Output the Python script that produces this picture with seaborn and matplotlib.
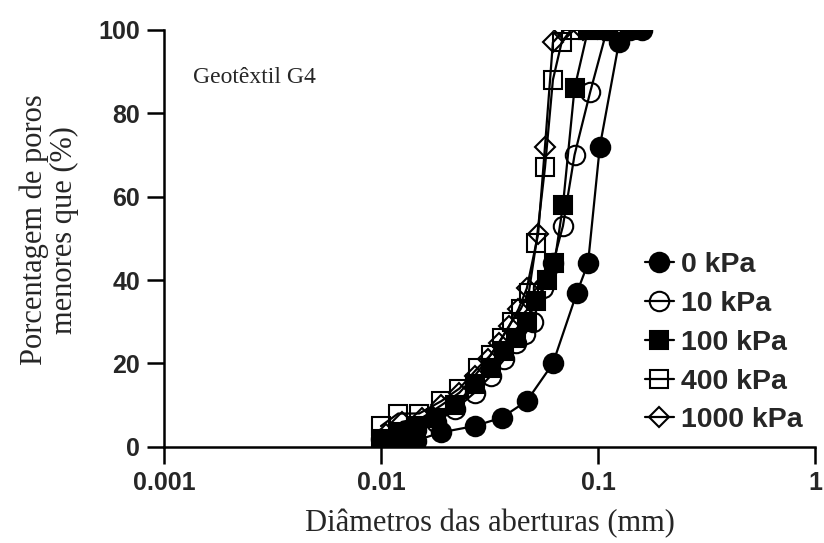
import matplotlib
matplotlib.use("Agg")
import matplotlib.pyplot as plt
import seaborn as sns
import pandas as pd
from matplotlib.ticker import FixedLocator, FixedFormatter, NullLocator

sns.set_theme(style="white")
plt.rcParams["font.family"] = ["Liberation Sans", "DejaVu Sans"]

# Pore-opening distribution of geotextile G4 under several confining stresses
labels = ["0 kPa", "10 kPa", "100 kPa", "400 kPa", "1000 kPa"]

d_0 = [0.0102, 0.0120, 0.0145, 0.0190, 0.0270, 0.0360, 0.0470, 0.0620, 0.0800, 0.0900, 0.1020, 0.1250, 0.1600]
p_0 = [1, 1, 1.5, 3.5, 5, 7, 11, 20, 37, 44, 72, 97, 100]

d_10 = [0.0100, 0.0120, 0.0145, 0.0180, 0.0220, 0.0270, 0.0320, 0.0370, 0.0420, 0.0460, 0.0500, 0.0560, 0.0620, 0.0690, 0.0780, 0.0920, 0.1100, 0.1400]
p_10 = [2, 3, 4, 6, 9, 13, 17, 21, 25, 27, 30, 38, 44, 53, 70, 85, 100, 100]

d_100 = [0.0100, 0.0120, 0.0145, 0.0180, 0.0220, 0.0270, 0.0320, 0.0370, 0.0420, 0.0470, 0.0520, 0.0580, 0.0630, 0.0690, 0.0780, 0.0900, 0.1100, 0.1400]
p_100 = [2, 3, 5, 7, 10, 15, 19, 23, 26, 30, 35, 40, 44, 58, 86, 100, 100, 100]

d_400 = [0.0100, 0.0120, 0.0150, 0.0190, 0.0230, 0.0280, 0.0320, 0.0360, 0.0400, 0.0440, 0.0480, 0.0520, 0.0570, 0.0620, 0.0680, 0.0750, 0.0900, 0.1100]
p_400 = [5, 8, 8, 11, 14, 19, 22, 26, 30, 33, 37, 49, 67, 88, 97, 100, 100, 100]

d_1000 = [0.0105, 0.0125, 0.0155, 0.0190, 0.0230, 0.0270, 0.0310, 0.0350, 0.0390, 0.0430, 0.0470, 0.0530, 0.0570, 0.0620, 0.0700, 0.0850, 0.1050]
p_1000 = [3, 6, 7, 10, 13, 17, 21, 25, 29, 33, 38, 51, 72, 97, 100, 100, 100]

x_ticks = [0.001, 0.01, 0.1, 1]
x_ticklabels = ["0.001", "0.01", "0.1", "1"]
y_ticks = [0, 20, 40, 60, 80, 100]

series = [
    (labels[0], d_0, p_0, "o", "black", 14),
    (labels[1], d_10, p_10, "o", "none", 14),
    (labels[2], d_100, p_100, "s", "black", 12.5),
    (labels[3], d_400, p_400, "s", "none", 12.5),
    (labels[4], d_1000, p_1000, "D", "none", 10.5),
]

fig = plt.figure(figsize=(8.24, 5.43), dpi=100)
ax = fig.add_axes([0.199, 0.177, 0.790, 0.768])

for name, d, p, mk, fc, ms in series:
    df = pd.DataFrame({"d": d, "p": p})
    sns.lineplot(data=df, x="d", y="p", ax=ax, color="black", lw=1.6,
                 marker=mk, markersize=ms, markerfacecolor=fc,
                 markeredgecolor="black", markeredgewidth=1.5,
                 label=name, sort=False, estimator=None)

ax.set_xscale("log")
ax.set_xlim(0.001, 1)
ax.set_ylim(0, 100)
ax.xaxis.set_major_locator(FixedLocator(x_ticks))
ax.xaxis.set_major_formatter(FixedFormatter(x_ticklabels))
ax.xaxis.set_minor_locator(NullLocator())
ax.set_yticks(y_ticks)

for s in ["top", "right"]:
    ax.spines[s].set_visible(False)
for s in ["left", "bottom"]:
    ax.spines[s].set_color("black")
    ax.spines[s].set_linewidth(1.8)

ax.tick_params(axis="both", which="major", direction="out", length=12, width=1.8,
               color="black", labelsize=18, pad=5, bottom=True, left=True)
for t in ax.get_xticklabels() + ax.get_yticklabels():
    t.set_fontweight("bold")

serif = ["Liberation Serif", "DejaVu Serif"]
ax.set_xlabel("Diâmetros das aberturas (mm)", family=serif, fontsize=22)
ax.xaxis.set_label_coords(0.5, -0.148)
ax.set_ylabel("Porcentagem de poros\nmenores que (%)", family=serif, fontsize=22,
              linespacing=1.05)
ax.yaxis.set_label_coords(-0.13, 0.52)
ax.text(0.045, 0.885, "Geotêxtil G4", transform=ax.transAxes, family=serif,
        fontsize=17, va="center", ha="left")

leg = ax.legend(loc="lower right", bbox_to_anchor=(0.998, 0.005), frameon=False,
                handlelength=1.0, handletextpad=0.25, labelspacing=0.45,
                prop={"size": 20.5, "weight": "bold"}, borderaxespad=0.0)

fig.savefig("out.png", dpi=100)
